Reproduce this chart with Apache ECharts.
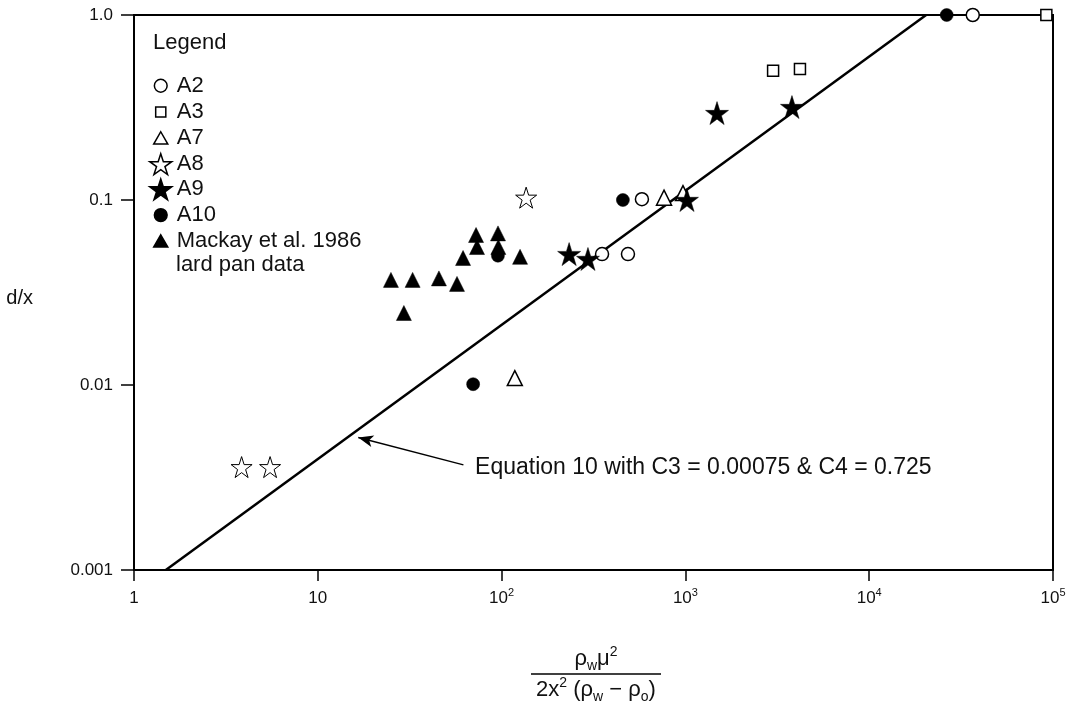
<!DOCTYPE html>
<html>
<head>
<meta charset="utf-8">
<title>d/x against the dimensionless group</title>
<script src="https://cdn.jsdelivr.net/npm/echarts@6/dist/echarts.min.js"></script>
<style>
  html, body { margin: 0; padding: 0; background: #fff; }
  #chart { width: 1066px; height: 701px; }
</style>
</head>
<body>
<div id="chart"></div>
<script>
// values (x = rho_w mu^2 / 2x^2 (rho_w - rho_o), y = d/x)
const a2X = [352, 487, 580, 36600];
const a2Y = [0.051, 0.051, 0.101, 1.0];
const a3X = [3000, 4200, 92000];
const a3Y = [0.50, 0.51, 1.0];
const a7X = [118, 765, 970];
const a7Y = [0.0109, 0.103, 0.109];
const a8X = [3.85, 5.5, 136];
const a8Y = [0.0036, 0.0036, 0.103];
const a9X = [233, 295, 1020, 1486, 3800];
const a9Y = [0.051, 0.048, 0.1, 0.295, 0.318];
const a10X = [70, 95.5, 457, 26400];
const a10Y = [0.0101, 0.050, 0.1, 1.0];
const mackayX = [25, 29.4, 32.8, 45.6, 57.2, 61.7, 72.6, 73.5, 95.6, 96, 126];
const mackayY = [0.037, 0.0245, 0.037, 0.0377, 0.0352, 0.0486, 0.0647, 0.0557, 0.066, 0.0557, 0.0493];

// Equation 10 line (C3 = 0.00075, C4 = 0.725), end points as drawn
const eqX = [1.49, 20400];
const eqY = [0.001, 1.0];

// arrow pointing at the line
const arrowFrom = [62, 0.0037];
const arrowTo = [16.6, 0.0052];
const eqText = 'Equation 10 with C3 = 0.00075 & C4 = 0.725';

const xTickLabels = ['{b|1}', '{b|10}', '{b|10}{sup|2}', '{b|10}{sup|3}', '{b|10}{sup|4}', '{b|10}{sup|5}'];
const yTickLabels = ['0.001', '0.01', '0.1', '1.0'];

const FONT = "'Liberation Sans', Arial, Helvetica, sans-serif";
const STAR = 'path://M50,0L61.23,34.55L97.55,34.55L68.16,55.9L79.39,90.45L50,69.1L20.61,90.45L31.84,55.9L2.45,34.55L38.77,34.55Z';
// legend icons, padded so they keep the small size of the plot markers
const ICON_CIRCLE = 'path://M0,0M100,100M79,50A29,29,0,1,1,21,50A29,29,0,1,1,79,50Z';
const ICON_SQUARE = 'path://M0,0M100,100M27,27L73,27L73,73L27,73Z';
const ICON_TRI = 'path://M0,0M100,100M50,20L82,76L18,76Z';

const zip = (xs, ys) => xs.map((x, i) => [x, ys[i]]);

const scatter = (name, xs, ys, symbol, size, fill, borderWidth) => ({
  name: name,
  type: 'scatter',
  data: zip(xs, ys),
  symbol: symbol,
  symbolSize: size,
  itemStyle: { color: fill, borderColor: '#000', borderWidth: borderWidth, opacity: 1 },
  emphasis: { disabled: true },
  z: 3
});

const fracRich = {
  r: { fontSize: 22, lineHeight: 28, fontFamily: FONT },
  s: { fontSize: 14, lineHeight: 14, verticalAlign: 'bottom', fontFamily: FONT },
  p: { fontSize: 14, lineHeight: 14, verticalAlign: 'top', fontFamily: FONT }
};

const chart = echarts.init(document.getElementById('chart'));

const option = {
  animation: false,
  backgroundColor: '#fff',
  textStyle: { fontFamily: FONT },
  grid: {
    left: 134, right: 13, top: 15, bottom: 131,
    show: true, borderColor: '#000', borderWidth: 2,
    containLabel: false, outerBoundsMode: 'none'
  },
  xAxis: {
    type: 'log',
    logBase: 10,
    min: 1,
    max: 100000,
    axisLine: { show: true, lineStyle: { color: '#000', width: 2 } },
    axisTick: { show: true, length: 11, lineStyle: { color: '#000', width: 1.5 } },
    minorTick: { show: false },
    splitLine: { show: false },
    axisLabel: {
      margin: 17,
      color: '#111',
      formatter: (v) => xTickLabels[Math.round(Math.log10(v))],
      rich: {
        b: { fontSize: 17, lineHeight: 22, fontFamily: FONT, color: '#111' },
        sup: { fontSize: 11, lineHeight: 11, verticalAlign: 'top', fontFamily: FONT, color: '#111' }
      }
    }
  },
  yAxis: {
    type: 'log',
    logBase: 10,
    min: 0.001,
    max: 1,
    name: 'd/x',
    nameLocation: 'middle',
    nameRotate: 0,
    nameGap: 101,
    nameTextStyle: { fontSize: 20, lineHeight: 12, verticalAlign: 'top', color: '#111', fontFamily: FONT },
    axisLine: { show: true, lineStyle: { color: '#000', width: 2 } },
    axisTick: { show: true, length: 13, lineStyle: { color: '#000', width: 1.5 } },
    minorTick: { show: false },
    splitLine: { show: false },
    axisLabel: {
      margin: 21,
      fontSize: 17,
      color: '#111',
      formatter: (v) => yTickLabels[Math.round(Math.log10(v)) + 3]
    }
  },
  legend: {
    orient: 'vertical',
    left: 149,
    top: 74,
    padding: 0,
    itemWidth: 22,
    itemHeight: 22,
    itemGap: 2.8,
    selectedMode: false,
    itemStyle: { borderWidth: 1.5 },
    textStyle: { fontSize: 22, lineHeight: 22, color: '#111', fontFamily: FONT },
    data: [
      { name: 'A2', icon: ICON_CIRCLE },
      { name: 'A3', icon: ICON_SQUARE },
      { name: 'A7', icon: ICON_TRI },
      { name: 'A8', icon: STAR },
      { name: 'A9', icon: STAR },
      { name: 'A10', icon: ICON_CIRCLE },
      { name: 'Mackay et al. 1986', icon: ICON_TRI }
    ]
  },
  graphic: [
    {
      type: 'text', x: 153, y: 43,
      style: { text: 'Legend', font: '22px ' + FONT, fill: '#111', verticalAlign: 'middle' }
    },
    {
      type: 'text', x: 176, y: 265,
      style: { text: 'lard pan data', font: '22px ' + FONT, fill: '#111', verticalAlign: 'middle' }
    },
    {
      type: 'text', x: 596, y: 659,
      style: {
        text: '{r|ρ}{s|w}{r|μ}{p|2}',
        align: 'center', verticalAlign: 'middle', fill: '#111',
        rich: fracRich
      }
    },
    {
      type: 'line',
      shape: { x1: 531, y1: 674, x2: 661, y2: 674 },
      style: { stroke: '#000', lineWidth: 1.5 }
    },
    {
      type: 'text', x: 596, y: 690,
      style: {
        text: '{r|2x}{p|2}{r| (ρ}{s|w}{r| − ρ}{s|o}{r|)}',
        align: 'center', verticalAlign: 'middle', fill: '#111',
        rich: fracRich
      }
    }
  ],
  series: [
    {
      name: 'Equation 10',
      type: 'line',
      data: zip(eqX, eqY),
      symbol: 'none',
      lineStyle: { color: '#000', width: 2.5 },
      emphasis: { disabled: true },
      z: 1,
      markLine: {
        silent: true,
        symbol: ['none', 'arrow'],
        symbolSize: [9, 15],
        lineStyle: { color: '#000', width: 1.5, type: 'solid' },
        label: {
          show: true,
          position: 'start',
          distance: 12,
          formatter: eqText,
          fontSize: 23,
          color: '#111',
          fontFamily: FONT
        },
        data: [[{ coord: arrowFrom }, { coord: arrowTo }]]
      }
    },
    scatter('A2', a2X, a2Y, 'circle', 13, '#fff', 1.5),
    scatter('A3', a3X, a3Y, 'rect', 11, '#fff', 1.5),
    scatter('A7', a7X, a7Y, 'triangle', 15, '#fff', 1.5),
    scatter('A8', a8X, a8Y, STAR, 21, '#fff', 1),
    scatter('A9', a9X, a9Y, STAR, 23, '#000', 0.5),
    scatter('A10', a10X, a10Y, 'circle', 13, '#000', 0.5),
    scatter('Mackay et al. 1986', mackayX, mackayY, 'triangle', 15, '#000', 0.5)
  ]
};

chart.setOption(option);
</script>
</body>
</html>
